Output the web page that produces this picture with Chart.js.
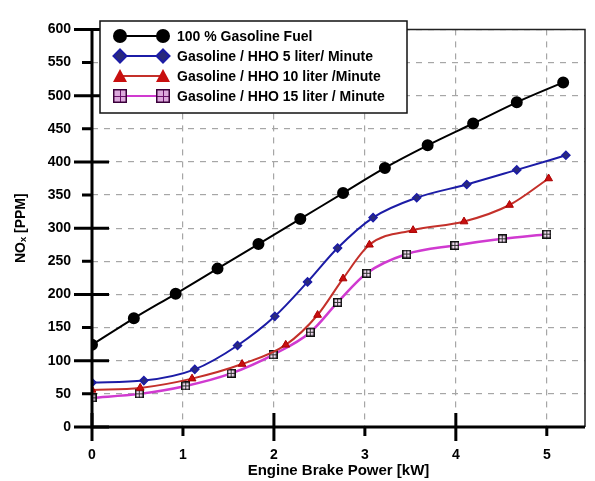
<!DOCTYPE html>
<html>
<head>
<meta charset="utf-8">
<script src="https://cdn.jsdelivr.net/npm/chart.js@4.4.0/dist/chart.umd.min.js"></script>
<style>
  body { margin: 0; background: #fff; }
  #wrap { width: 595px; height: 481px; }
</style>
</head>
<body>
<div id="wrap"><canvas id="noxChart" width="595" height="481"></canvas></div>
<script>
// values
const seriesNames = [
  '100 % Gasoline Fuel',
  'Gasoline / HHO 5 liter/ Minute',
  'Gasoline / HHO 10 liter /Minute',
  'Gasoline / HHO 15 liter / Minute'
];
const gasolineX = [0, 0.46, 0.92, 1.38, 1.83, 2.29, 2.76, 3.22, 3.69, 4.19, 4.67, 5.18];
const gasolineY = [124, 164, 201, 239, 276, 314, 353, 391, 425, 458, 490, 520];
const hho5X = [0, 0.57, 1.13, 1.6, 2.01, 2.37, 2.70, 3.09, 3.57, 4.12, 4.67, 5.21];
const hho5Y = [67, 70, 87, 123, 167, 219, 270, 316, 346, 366, 388, 410];
const hho10X = [0, 0.53, 1.10, 1.65, 2.13, 2.48, 2.76, 3.05, 3.53, 4.09, 4.59, 5.02];
const hho10Y = [56, 59, 73, 95, 124, 169, 224, 275, 297, 310, 335, 375];
const hho15X = [0, 0.52, 1.03, 1.53, 1.99, 2.40, 2.70, 3.02, 3.46, 3.99, 4.51, 5.0];
const hho15Y = [44, 50, 62, 81, 109, 143, 188, 232, 261, 274, 284, 291];
const xTickValues = [0, 1, 2, 3, 4, 5];
const yTickValues = [0, 50, 100, 150, 200, 250, 300, 350, 400, 450, 500, 550, 600];

function pairs(xs, ys) {
  return xs.map((x, i) => ({x: x, y: ys[i]}));
}

// small boxed-cross square used for the 15 l/min series
function gridSquare(size, fill, lineCol, edgeCol) {
  const c = document.createElement('canvas');
  c.width = size; c.height = size;
  const g = c.getContext('2d');
  g.fillStyle = fill;
  g.fillRect(0, 0, size, size);
  g.strokeStyle = lineCol;
  g.lineWidth = 1;
  const m = Math.floor(size / 2) + 0.5;
  g.beginPath();
  g.moveTo(m, 1); g.lineTo(m, size - 1);
  g.moveTo(1, m); g.lineTo(size - 1, m);
  g.stroke();
  g.strokeStyle = edgeCol;
  g.lineWidth = 1.5;
  g.strokeRect(0.75, 0.75, size - 1.5, size - 1.5);
  return c;
}
const squareSmall = gridSquare(9, '#f2dcf2', '#333', '#111');
const squareBig = gridSquare(14, '#dca8dc', '#6a106a', '#3a003a');

const lineColors = ['#000000', '#1c1ca6', '#c4302a', '#d03ad0'];

const axisDecor = {
  id: 'axisDecor',
  afterDraw(chart) {
    const ctx = chart.ctx;
    const a = chart.chartArea;
    const x = chart.scales.x, y = chart.scales.y;
    ctx.save();
    // outer frame
    ctx.strokeStyle = '#222';
    ctx.lineWidth = 1.5;
    ctx.beginPath();
    ctx.moveTo(a.left, a.top); ctx.lineTo(a.right, a.top); ctx.lineTo(a.right, a.bottom);
    ctx.stroke();
    // axes
    ctx.strokeStyle = '#000';
    ctx.lineWidth = 3;
    ctx.beginPath();
    ctx.moveTo(a.left, a.top); ctx.lineTo(a.left, a.bottom); ctx.lineTo(a.right, a.bottom);
    ctx.stroke();
    // tick marks
    ctx.beginPath();
    yTickValues.forEach(v => {
      const py = y.getPixelForValue(v);
      if (v % 100 === 0) { ctx.moveTo(a.left - 18, py); ctx.lineTo(a.left + 17, py); }
      else { ctx.moveTo(a.left - 10, py); ctx.lineTo(a.left, py); }
    });
    xTickValues.forEach(v => {
      const px = x.getPixelForValue(v);
      if (v % 2 === 0) { ctx.moveTo(px, a.bottom - 14); ctx.lineTo(px, a.bottom + 14); }
      else { ctx.moveTo(px, a.bottom); ctx.lineTo(px, a.bottom + 9); }
    });
    ctx.stroke();

    // legend box
    const lx = 100, ly = 21, lw = 307, lh = 92;
    ctx.fillStyle = '#fff';
    ctx.fillRect(lx, ly, lw, lh);
    ctx.strokeStyle = '#111';
    ctx.lineWidth = 1.5;
    ctx.strokeRect(lx, ly, lw, lh);
    ctx.font = 'bold 14px "Liberation Sans", Arial, sans-serif';
    ctx.textBaseline = 'middle';
    ctx.textAlign = 'left';
    seriesNames.forEach((name, i) => {
      const ry = ly + 15 + i * 20;
      ctx.strokeStyle = lineColors[i];
      ctx.lineWidth = 2;
      ctx.beginPath(); ctx.moveTo(120, ry); ctx.lineTo(163, ry); ctx.stroke();
      [120, 163].forEach(mx => {
        if (i === 0) {
          ctx.fillStyle = '#000';
          ctx.beginPath(); ctx.arc(mx, ry, 7, 0, Math.PI * 2); ctx.fill();
        } else if (i === 1) {
          ctx.fillStyle = '#2a2a7a'; ctx.strokeStyle = '#1c1ca6'; ctx.lineWidth = 2;
          ctx.beginPath();
          ctx.moveTo(mx, ry - 6.5); ctx.lineTo(mx + 6.5, ry); ctx.lineTo(mx, ry + 6.5); ctx.lineTo(mx - 6.5, ry);
          ctx.closePath(); ctx.fill(); ctx.stroke();
        } else if (i === 2) {
          ctx.fillStyle = '#c80f0f';
          ctx.beginPath();
          ctx.moveTo(mx, ry - 7); ctx.lineTo(mx + 7, ry + 6); ctx.lineTo(mx - 7, ry + 6);
          ctx.closePath(); ctx.fill();
        } else {
          ctx.drawImage(squareBig, mx - 7, ry - 7);
        }
      });
      ctx.fillStyle = '#000';
      ctx.fillText(name, 177, ry + 1);
    });
    ctx.restore();
  }
};

const tickFont = {family: '"Liberation Sans", Arial, sans-serif', size: 14, weight: 'bold'};

new Chart(document.getElementById('noxChart'), {
  type: 'line',
  data: {
    datasets: [
      {
        label: seriesNames[0], data: pairs(gasolineX, gasolineY),
        borderColor: lineColors[0], borderWidth: 2,
        pointStyle: 'circle', pointRadius: 5, pointBackgroundColor: '#000', pointBorderColor: '#000'
      },
      {
        label: seriesNames[1], data: pairs(hho5X, hho5Y),
        borderColor: lineColors[1], borderWidth: 2,
        pointStyle: 'rectRot', pointRadius: 4, pointBackgroundColor: '#2a2a7a', pointBorderColor: '#1c1ca6', pointBorderWidth: 1.5
      },
      {
        label: seriesNames[2], data: pairs(hho10X, hho10Y),
        borderColor: lineColors[2], borderWidth: 2,
        pointStyle: 'triangle', pointRadius: 4.5, pointBackgroundColor: '#c80f0f', pointBorderColor: '#a00', pointBorderWidth: 1
      },
      {
        label: seriesNames[3], data: pairs(hho15X, hho15Y),
        borderColor: lineColors[3], borderWidth: 2.5,
        pointStyle: squareSmall, pointRadius: 4.5
      }
    ]
  },
  options: {
    responsive: false,
    animation: false,
    layout: {padding: {left: 0, right: 10, top: 13, bottom: 0}},
    plugins: {legend: {display: false}, tooltip: {enabled: false}},
    elements: {line: {cubicInterpolationMode: 'monotone'}},
    scales: {
      x: {
        type: 'linear', min: 0, max: 5.42,
        afterBuildTicks: s => { s.ticks = xTickValues.map(v => ({value: v})); },
        afterFit: s => { s.height = 54; },
        grid: {color: '#a6a6a6', lineWidth: 1.2, drawTicks: false},
        border: {display: false, dash: [6, 6]},
        ticks: {color: '#000', font: tickFont, padding: 20, maxRotation: 0},
        title: {display: true, text: 'Engine Brake Power [kW]', color: '#000',
                font: {family: '"Liberation Sans", Arial, sans-serif', size: 15, weight: 'bold'},
                padding: {top: 0, bottom: 1}}
      },
      y: {
        min: 0, max: 600,
        afterBuildTicks: s => { s.ticks = yTickValues.map(v => ({value: v})); },
        afterFit: s => { s.width = 92; },
        grid: {color: '#a6a6a6', lineWidth: 1.2, drawTicks: false},
        border: {display: false, dash: [6, 6]},
        ticks: {color: '#000', font: tickFont, padding: 21},
        title: {display: true, text: 'NOₓ [PPM]', color: '#000',
                font: {family: '"Liberation Sans", Arial, sans-serif', size: 14, weight: 'bold'},
                padding: {top: 13, bottom: 0}}
      }
    }
  },
  plugins: [axisDecor]
});
</script>
</body>
</html>
